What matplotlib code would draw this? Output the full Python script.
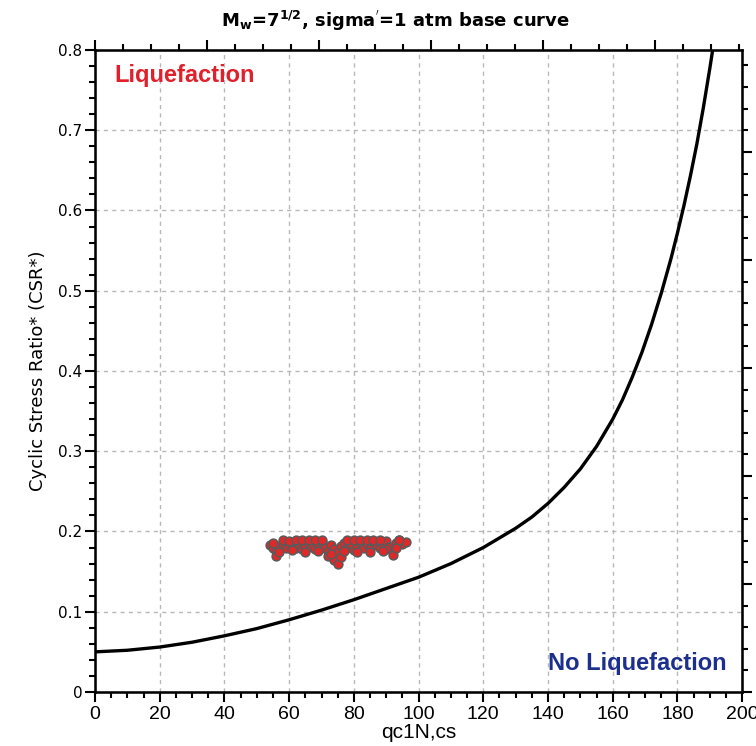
import numpy as np
import matplotlib
matplotlib.use("Agg")
import matplotlib.pyplot as plt
from matplotlib.ticker import MultipleLocator

plt.rcParams['mathtext.default'] = 'bf'

# base curve (qc1N,cs -> CSR*)
curve_q = [0, 10, 20, 30, 40, 50, 60, 70, 80, 90, 100, 110, 120, 130, 135, 140,
           145, 150, 155, 160, 163, 166, 169, 172, 175, 178, 180, 182, 184, 186,
           188, 190, 191]
curve_csr = [0.050, 0.052, 0.056, 0.062, 0.070, 0.079, 0.090, 0.102, 0.115, 0.129,
             0.143, 0.160, 0.180, 0.204, 0.218, 0.235, 0.255, 0.278, 0.306, 0.340,
             0.364, 0.392, 0.423, 0.458, 0.497, 0.540, 0.572, 0.606, 0.643, 0.683,
             0.728, 0.777, 0.803]

# site points (cluster)
pts_q = [54, 55, 56, 57, 58, 59, 60, 61, 62, 63, 64, 65, 66, 67, 68, 69, 70, 71,
         72, 73, 74, 75, 76, 77, 78, 79, 80, 81, 82, 83, 84, 85, 86, 87, 88, 89,
         90, 91, 92, 93, 94, 95, 96,
         56, 58, 60, 62, 64, 66, 68, 70, 72, 74, 75, 76, 78, 80, 82, 84, 86, 88,
         90, 92, 94,
         55, 57, 61, 65, 69, 73, 77, 81, 85, 89, 93]
pts_csr = [0.183, 0.180, 0.176, 0.182, 0.185, 0.179, 0.183, 0.186, 0.180, 0.184,
           0.178, 0.182, 0.186, 0.181, 0.178, 0.184, 0.187, 0.180, 0.176, 0.183,
           0.178, 0.174, 0.182, 0.186, 0.180, 0.184, 0.177, 0.182, 0.187, 0.180,
           0.184, 0.178, 0.188, 0.183, 0.179, 0.185, 0.188, 0.181, 0.176, 0.186,
           0.189, 0.184, 0.187,
           0.170, 0.189, 0.188, 0.190, 0.189, 0.190, 0.189, 0.190, 0.170, 0.165,
           0.160, 0.168, 0.189, 0.190, 0.189, 0.190, 0.190, 0.189, 0.178, 0.171,
           0.190,
           0.186, 0.174, 0.177, 0.175, 0.176, 0.172, 0.176, 0.175, 0.174, 0.176,
           0.180]

fig = plt.figure(figsize=(7.56, 7.46), dpi=100)
ax = fig.add_axes([0.1257, 0.0724, 0.856, 0.8606])

ax.plot(curve_q, curve_csr, color='black', lw=2.4, zorder=3)
ax.scatter(pts_q, pts_csr, s=40, facecolor='#e02828', edgecolor='#5a5a5a',
           linewidth=1.1, zorder=4)

ax.set_xlim(0, 200)
ax.set_ylim(0, 0.8)
ax.xaxis.set_major_locator(MultipleLocator(20))
ax.xaxis.set_minor_locator(MultipleLocator(5))
ax.yaxis.set_major_locator(MultipleLocator(0.1))
ax.yaxis.set_minor_locator(MultipleLocator(0.02))
ax.grid(True, which='major', color='#b8b8b8', ls=(0, (3, 3)), lw=1)
ax.tick_params(which='major', direction='out', length=7, width=1.5, color='black')
ax.tick_params(which='minor', direction='out', length=4, width=1.5, color='black')
ax.tick_params(axis='x', labelsize=14, pad=3)
ax.tick_params(axis='y', labelsize=11, pad=2)
ax.set_yticks(np.arange(0, 0.81, 0.1))
ax.set_yticklabels(['0'] + ['%.1f' % v for v in np.arange(0.1, 0.81, 0.1)])
for lab in ax.get_xticklabels():
    lab.set_fontfamily(['Liberation Sans', 'DejaVu Sans'])
for sp in ax.spines.values():
    sp.set_linewidth(1.8)

# extra tick rows on top and right
axt = ax.twiny()
axt.set_xlim(0, 200 / 34.6)
axt.xaxis.set_major_locator(MultipleLocator(1))
axt.xaxis.set_minor_locator(MultipleLocator(0.25))
axt.tick_params(which='major', direction='out', length=7, width=1.5, labeltop=False)
axt.tick_params(which='minor', direction='out', length=4, width=1.5)
axr = ax.twinx()
axr.set_ylim(0, 0.8 / 0.1346)
axr.yaxis.set_major_locator(MultipleLocator(1))
axr.yaxis.set_minor_locator(MultipleLocator(0.2))
axr.tick_params(which='major', direction='out', length=7, width=1.5, labelright=False)
axr.tick_params(which='minor', direction='out', length=4, width=1.5)

ax.text(6.0, 0.768, 'Liquefaction', color='#e0202a', fontsize=17, fontweight='bold',
        family=['Liberation Sans', 'DejaVu Sans'], va='center', ha='left')
ax.text(140.0, 0.035, 'No Liquefaction', color='#1c2f8c', fontsize=17, fontweight='bold',
        family=['Liberation Sans', 'DejaVu Sans'], va='center', ha='left')

ax.set_xlabel('qc1N,cs', fontsize=15, labelpad=0,
              family=['Liberation Sans', 'DejaVu Sans'])
ax.set_ylabel('Cyclic Stress Ratio* (CSR*)', fontsize=13, labelpad=8)
fig.text(0.523, 0.972, "M$_w$=7$^{1/2}$, sigma$^{'}$=1 atm base curve", fontsize=13,
         fontweight='bold', ha='center', va='center')

fig.savefig('out.png', dpi=100)
